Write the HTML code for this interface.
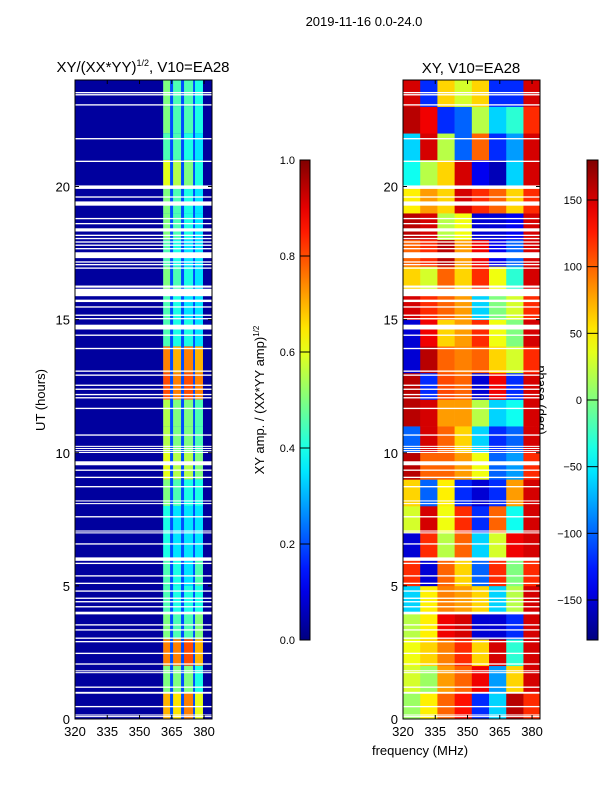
<!DOCTYPE html>
<html><head><meta charset="utf-8"><style>
body{margin:0;background:#fff;}
svg text{font-family:"Liberation Sans",sans-serif;fill:#000;}
</style></head><body>
<svg id="fig" width="600" height="800" xmlns="http://www.w3.org/2000/svg">
<rect x="0" y="0" width="600" height="800" fill="#fff"/>
<text x="364" y="26" font-size="13" text-anchor="middle">2019-11-16 0.0-24.0</text>
<text x="143" y="72" font-size="15" text-anchor="middle">XY/(XX*YY)<tspan font-size="9" dy="-6">1/2</tspan><tspan dy="6">, V10=EA28</tspan></text>
<text x="471" y="73" font-size="15" text-anchor="middle">XY, V10=EA28</text>
<text transform="translate(45,400) rotate(-90)" font-size="13" text-anchor="middle">UT (hours)</text>
<text x="420" y="755" font-size="13" text-anchor="middle">frequency (MHz)</text>
<text transform="translate(264,400) rotate(-90)" font-size="13" text-anchor="middle">XY amp. / (XX*YY amp)<tspan font-size="8" dy="-5">1/2</tspan></text>
<text transform="translate(537,400) rotate(90)" font-size="13" text-anchor="middle">phase (deg)</text>
<g id="ampPanel"></g>
<g id="phasePanel"></g>
<g id="axes"></g>
<g id="cbars"></g>
</svg>
<script>
// ---- data ----
const xTicks = [320, 335, 350, 365, 380];
const yTicks = [0, 5, 10, 15, 20];
const ampTicks = [0.0, 0.2, 0.4, 0.6, 0.8, 1.0];
const phaseTicks = [-150, -100, -50, 0, 50, 100, 150];
const stripeEdges = [[361,364.2],[365.6,369.3],[370.7,374.9],[375.8,379.5]];
const ampBackground = 0.03;
const ampBetween = 0.2;
// per hour (0..23) amplitude in each of 4 stripes
const ampRows = [
[0.7,0.65,0.75,0.6],[0.5,0.5,0.5,0.4],[0.75,0.75,0.8,0.7],[0.5,0.45,0.45,0.5],
[0.45,0.4,0.4,0.4],[0.45,0.4,0.35,0.45],[0.4,0.35,0.35,0.35],[0.4,0.35,0.35,0.35],
[0.5,0.45,0.4,0.4],[0.6,0.55,0.55,0.5],[0.55,0.5,0.5,0.45],[0.55,0.5,0.5,0.45],
[0.8,0.75,0.8,0.75],[0.75,0.7,0.75,0.7],[0.45,0.4,0.4,0.35],[0.45,0.4,0.35,0.35],
[0.5,0.45,0.4,0.35],[0.45,0.4,0.35,0.35],[0.5,0.45,0.4,0.35],[0.5,0.45,0.4,0.35],
[0.6,0.55,0.5,0.4],[0.45,0.45,0.4,0.35],[0.5,0.45,0.45,0.4],[0.5,0.45,0.45,0.4]];
// phase per hour (0..23), 8 frequency columns of 8 MHz from 320
const phaseRows = [
[10,50,100,130,-120,-60,160,120],[30,10,80,100,140,-80,60,150],[40,60,90,120,60,150,-30,150],
[20,50,140,150,-150,-150,-120,150],[-60,50,90,80,60,-60,20,150],[120,-150,100,60,-100,120,0,120],
[-150,120,20,100,-60,30,140,150],[30,150,40,120,-120,100,-40,150],[60,-100,50,-120,-150,-120,80,150],
[160,100,100,80,40,-100,-80,120],[-100,150,100,60,-60,-120,-100,150],[160,150,80,80,20,-60,-40,150],
[160,-120,110,100,-150,140,-120,150],[-150,160,100,90,100,60,30,120],[-150,140,60,80,120,40,0,150],
[150,120,100,80,-60,0,30,120],[60,30,100,60,120,40,-30,150],[100,120,160,80,140,-140,-100,150],
[160,150,20,40,-150,-150,-140,150],[50,80,60,150,120,100,60,120],[-40,20,60,150,-140,-160,-60,150],
[-60,150,20,-100,100,-120,-80,150],[160,140,-120,-100,20,-60,-30,120],[150,-120,60,30,60,-120,-120,150]];
// flagged time ranges (hours)
const flags = [[23.5,23.55],[23.42,23.47],[23.04,23.09],[21.77,21.82],[20.92,20.97],[19.91,20.04],[19.58,19.63],
[19.28,19.44],[18.77,18.82],[18.58,18.63],[18.31,18.43],[18.14,18.19],[18.02,18.07],[17.89,17.94],[17.64,17.69],
[17.77,17.82],[17.31,17.53],[17.14,17.19],[17.04,17.09],[16.91,16.96],[16.2,16.28],[15.88,16.16],[15.66,15.75],
[15.45,15.5],[15.14,15.19],[15.01,15.06],[14.63,14.81],[14.39,14.44],[13.89,13.94],[13.04,13.09],[12.89,12.94],
[12.51,12.56],[12.36,12.41],[12.16,12.21],[12.04,12.09],[11.64,11.69],[10.64,10.69],[10.22,10.26],[10.14,10.18],
[10.06,10.1],[9.99,10.03],[9.53,9.68],[9.32,9.37],[9.05,9.1],[8.7,8.75],[8.17,8.21],[8.07,8.11],[7.57,7.62],
[7.04,7.08],[6.97,7.01],[6.55,6.6],[5.94,6.07],[5.82,5.87],[5.35,5.4],[5.07,5.12],[4.78,4.83],[4.51,4.56],
[4.38,4.43],[4.19,4.24],[3.93,4.03],[3.51,3.56],[3.32,3.37],[3.01,3.06],[2.88,2.93],[2.44,2.49],[2.04,2.09],
[1.79,1.83],[1.72,1.76],[1.17,1.22],[0.95,1.02],[0.44,0.49],[0.13,0.17],[0.07,0.11]];

// ---- helpers ----
const NS = "http://www.w3.org/2000/svg";
const fMin = 320, fMax = 383.7, tMin = 0, tMax = 24;
const panels = [{x0:75, x1:212}, {x0:403, x1:540}];
const yTop = 80, yBot = 719;
function xScale(p, f){ return p.x0 + (f - fMin) / (fMax - fMin) * (p.x1 - p.x0); }
function yScale(t){ return yBot - (t - tMin) / (tMax - tMin) * (yBot - yTop); }
function clamp(v){ return Math.max(0, Math.min(1, v)); }
function jet(v){
  v = clamp(v);
  const r = clamp(1.5 - Math.abs(4*v - 3)), g = clamp(1.5 - Math.abs(4*v - 2)), b = clamp(1.5 - Math.abs(4*v - 1));
  return `rgb(${Math.round(r*255)},${Math.round(g*255)},${Math.round(b*255)})`;
}
function mk(tag, attrs, parent){
  const el = document.createElementNS(NS, tag);
  for (const k in attrs) el.setAttribute(k, attrs[k]);
  parent.appendChild(el);
  return el;
}

// ---- amplitude panel ----
const ampG = document.getElementById('ampPanel');
const pA = panels[0];
mk('rect', {x:pA.x0, y:yTop, width:pA.x1-pA.x0, height:yBot-yTop, fill:jet(ampBackground)}, ampG);
const betweenR = mk('rect', {x:xScale(pA,stripeEdges[0][0]), y:yTop, width:xScale(pA,stripeEdges[3][1])-xScale(pA,stripeEdges[0][0]), height:yBot-yTop, fill:jet(ampBetween)}, ampG);


ampRows.forEach((row, h) => {
  row.forEach((v, s) => {
    const xa = xScale(pA, stripeEdges[s][0]), xb = xScale(pA, stripeEdges[s][1]);
    const r = mk('rect', {x:xa, y:yScale(h+1), width:xb-xa, height:yScale(h)-yScale(h+1), fill:jet(v)}, ampG);
    
    
  });
});

// ---- phase panel ----
const phG = document.getElementById('phasePanel');
const pP = panels[1];
phaseRows.forEach((row, h) => {
  row.forEach((v, c) => {
    const fa = fMin + c*8, fb = Math.min(fMax, fMin + (c+1)*8);
    const xa = xScale(pP, fa), xb = xScale(pP, fb);
    const r = mk('rect', {x:xa, y:yScale(h+1), width:xb-xa+0.3, height:yScale(h)-yScale(h+1)+0.3, fill:jet((v+180)/360)}, phG);
    
    
  });
});

// ---- flags (white rows) ----
[ampG, phG].forEach((g, i) => {
  const p = panels[i];
  flags.forEach(fl => {
    const r = mk('rect', {x:p.x0, y:yScale(fl[1]), width:p.x1-p.x0, height:Math.max(1, yScale(fl[0])-yScale(fl[1])), fill:'#fff'}, g);
    
    
  });
});

// ---- axes ----
const axG = document.getElementById('axes');
panels.forEach((p, i) => {
  mk('rect', {x:p.x0, y:yTop, width:p.x1-p.x0, height:yBot-yTop, fill:'none', stroke:'#000', 'stroke-width':1}, axG);
  xTicks.forEach(t => {
    const x = xScale(p, t);
    mk('line', {x1:x, x2:x, y1:yBot, y2:yBot-4, stroke:'#000'}, axG);
    mk('line', {x1:x, x2:x, y1:yTop, y2:yTop+4, stroke:'#000'}, axG);
    const tx = mk('text', {x:x, y:736, 'font-size':13, 'text-anchor':'middle'}, axG);
    tx.textContent = t;
    
    
  });
  yTicks.forEach(t => {
    const y = yScale(t);
    mk('line', {x1:p.x0, x2:p.x0+4, y1:y, y2:y, stroke:'#000'}, axG);
    mk('line', {x1:p.x1, x2:p.x1-4, y1:y, y2:y, stroke:'#000'}, axG);
    const tx = mk('text', {x:p.x0-5, y:y+5, 'font-size':13, 'text-anchor':'end'}, axG);
    tx.textContent = t;
    
    
  });
});

// ---- colorbars ----
const cbG = document.getElementById('cbars');
const defs = mk('defs', {}, cbG);
const grad = mk('linearGradient', {id:'jetg', x1:0, y1:1, x2:0, y2:0}, defs);
for (let k = 0; k <= 20; k++) mk('stop', {offset:k/20, 'stop-color':jet(k/20)}, grad);
const cbs = [{x:300, w:10, min:0, max:1, ticks:ampTicks, fmt:v=>v.toFixed(1), name:'amp-colorbar'},
             {x:587, w:11, min:-180, max:180, ticks:phaseTicks, fmt:v=>(v<0?'\u2212'+(-v):''+v), name:'phase-colorbar'}];
const cbTop = 160, cbBot = 640;
cbs.forEach(cb => {
  const r = mk('rect', {x:cb.x, y:cbTop, width:cb.w, height:cbBot-cbTop, fill:'url(#jetg)', stroke:'#000', 'stroke-width':1}, cbG);
  
  
  cb.ticks.forEach(t => {
    const y = cbBot - (t - cb.min)/(cb.max - cb.min)*(cbBot - cbTop);
    mk('line', {x1:cb.x, x2:cb.x+cb.w, y1:y, y2:y, stroke:'#000'}, cbG);
    const tx = mk('text', {x:cb.x-5, y:y+4, 'font-size':11, 'text-anchor':'end'}, cbG);
    tx.textContent = cb.fmt(t);
    
    
  });
});
</script>
</body></html>
